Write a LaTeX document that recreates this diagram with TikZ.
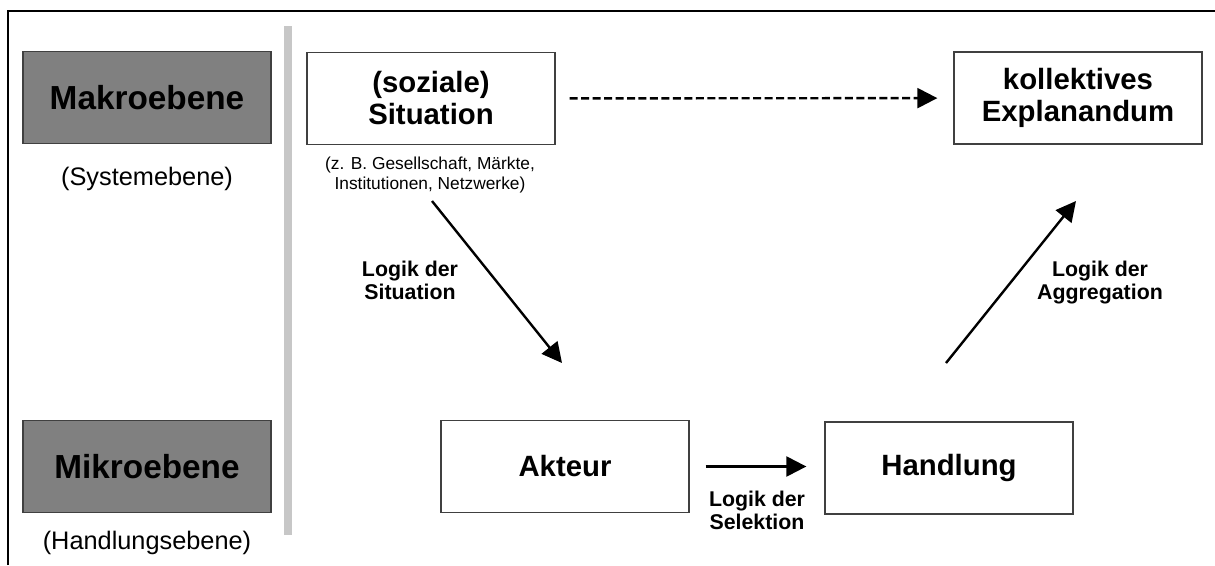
\documentclass[tikz,border=0pt]{standalone}
\usepackage{fontspec}
\setmainfont{Liberation Sans}
\usepackage{xcolor}
\usepackage{tikz}
\usetikzlibrary{arrows.meta,positioning}

\begin{document}
\begin{tikzpicture}[x=0.75pt,y=-0.75pt,
      box/.style={draw=black!75, line width=1pt, fill=white, minimum width=186pt,
        minimum height=69pt, align=center, font=\fontsize{22}{24}\selectfont\bfseries},
      lvl/.style={box, fill=black!50, font=\fontsize{25}{30}\selectfont\bfseries},
      sub/.style={align=center, font=\fontsize{19}{22}\selectfont},
      lbl/.style={align=center, font=\fontsize{16}{17.25}\selectfont\bfseries},
      arr/.style={line width=1.8pt, -{Triangle[length=15pt,width=15pt]}}]
    \useasboundingbox (0,0) rectangle (1215,565);
    % frame and divider
    \draw[line width=1.5pt] (8,565) -- (8,11) -- (1215,11);
    \fill[black!22] (284,26) rectangle (292,535);
    % levels
    \node[lvl] (makro) at (147,97.5)  {Makroebene};
    \node[sub] (sys)   at (147,179)   {(Systemebene)};
    \node[lvl] (mikro) at (147,466.5) {Mikroebene};
    \node[sub] (hdl)   at (147,543)   {(Handlungsebene)};
    % boxes
    \node[box] (sit)  at (431,98.5)  {(soziale)\\Situation};
    \node[align=center, font=\fontsize{13}{15}\selectfont] (sitex) at (430,175)
      {(z. B. Gesellschaft, Märkte,\\Institutionen, Netzwerke)};
    \node[box] (expl) at (1078,98)   {kollektives\\Explanandum};
    \node[box] (akt)  at (565,466.5) {Akteur};
    \node[box] (hand) at (949,468)   {Handlung};
    \coordinate (sitA) at (432,201);
    \coordinate (sitB) at (562,363);
    \coordinate (aggA) at (946,363);
    \coordinate (aggB) at (1076,201);
    % arrows
    \draw[arr, dash pattern=on 6pt off 2.6pt, shorten <=10.5pt, shorten >=12pt] (sit) -- (expl);
    \draw[arr] (sitA) -- (sitB);
    \draw[arr] (aggA) -- (aggB);
    \draw[arr, shorten <=12pt, shorten >=13.5pt] (akt.east) -- (akt.east -| hand.west);
    \node[lbl] (lsit) at (410,280)  {Logik der\\Situation};
    \node[lbl] (lagg) at (1100,283) {Logik der\\Aggregation};
    \node[lbl] (lsel) at (757,510)  {Logik der\\Selektion};
  \end{tikzpicture}
\end{document}
